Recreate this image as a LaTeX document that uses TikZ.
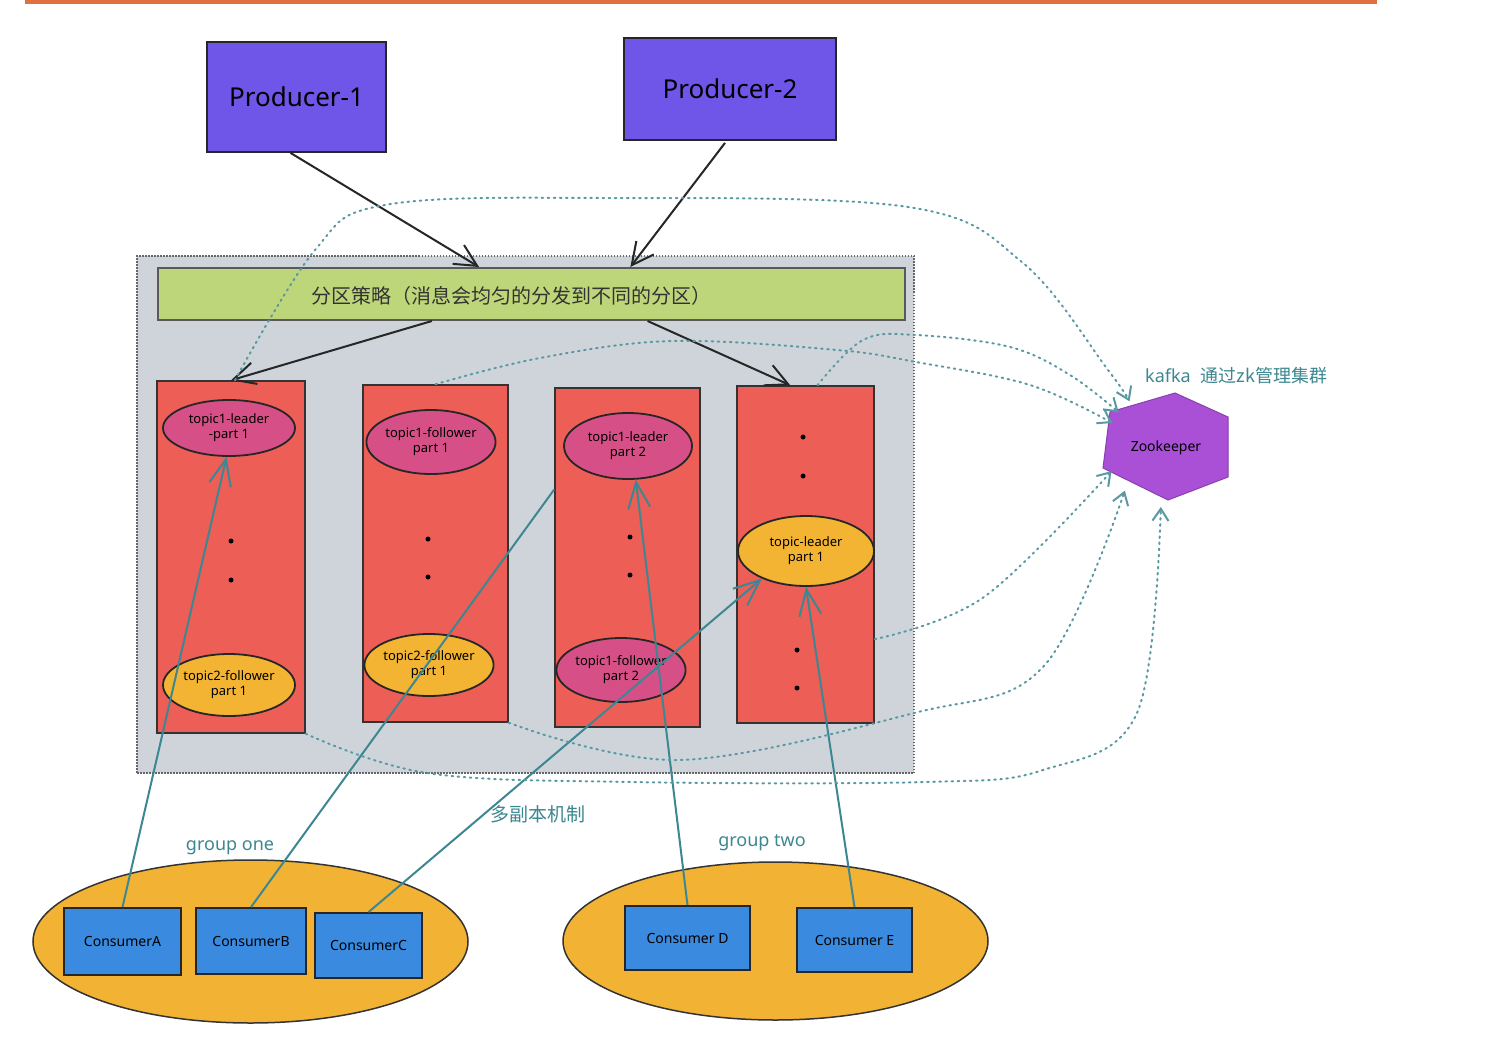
\documentclass[tikz,border=0pt]{standalone}
\usepackage{fontspec}
\setmainfont{Noto Sans}
\newfontfamily\cjk{Noto Sans CJK SC}
\usetikzlibrary{shapes.geometric,arrows.meta,calc}
\definecolor{orangebar}{RGB}{224,112,64}
\definecolor{prodc}{RGB}{112,86,232}
\definecolor{contc}{RGB}{207,212,219}
\definecolor{greenc}{RGB}{190,214,122}
\definecolor{colred}{RGB}{236,94,86}
\definecolor{pinkc}{RGB}{214,80,135}
\definecolor{yelc}{RGB}{242,180,50}
\definecolor{consc}{RGB}{58,138,224}
\definecolor{grpc}{RGB}{242,178,52}
\definecolor{zkc}{RGB}{170,80,215}
\definecolor{tealc}{RGB}{60,135,145}
\begin{document}
\begin{tikzpicture}[x=1pt,y=-1pt,
  prod/.style={draw=black!85,line width=1.8pt,fill=prodc,inner sep=0pt,font=\fontsize{26pt}{30pt}\selectfont},
  colbox/.style={draw=black!80,line width=1.5pt,fill=colred,inner sep=0pt},
  ell/.style={ellipse,draw=black!85,line width=1.8pt,inner sep=0pt,align=center,font=\fontsize{13pt}{15pt}\selectfont},
  pinkell/.style={ell,fill=pinkc},
  yell/.style={ell,fill=yelc},
  cons/.style={draw=black!85,line width=1.8pt,fill=consc,inner sep=0pt,font=\fontsize{14pt}{16pt}\selectfont},
  grp/.style={ellipse,draw=black!80,line width=1.5pt,fill=grpc,inner sep=0pt},
  barrow/.style={draw=black!85,line width=2pt,-{Straight Barb[length=22pt,width=22pt]}},
  tarrow/.style={draw=tealc,line width=2pt,-{Straight Barb[length=26pt,width=22pt]}},
  tline/.style={draw=tealc,line width=2pt},
  zkline/.style={draw=tealc!85,line width=2pt,dash pattern=on 1.6pt off 4.5pt,line cap=round,-{Straight Barb[length=12pt,width=16pt]}},
  dotn/.style={circle,fill=black,inner sep=0pt,minimum size=5pt},
  tlabel/.style={text=tealc,inner sep=0pt,font=\fontsize{18pt}{20pt}\selectfont},
]
\useasboundingbox (0,0) rectangle (1488,1044);
\fill[white] (0,0) rectangle (1488,1044);
% top bar
\fill[orangebar] (25,0) rectangle (1377,4);

% container
\node[draw=black!60,line width=2pt,dash pattern=on 1.5pt off 1.5pt,fill=contc,minimum width=777pt,minimum height=517pt,inner sep=0pt] (cont) at (525.5,514.5) {};
% green bar
\node[draw=black!65,line width=2pt,fill=greenc,minimum width=747pt,minimum height=52pt,inner sep=0pt] (g) at (531.5,294) {};
\node[inner sep=0pt,font=\cjk\fontsize{20pt}{22pt}\selectfont,text=black!80] (gt) at (511,296) {分区策略（消息会均匀的分发到不同的分区）};

% columns
\node[colbox,minimum width=148pt,minimum height=352pt] (c1) at (231,557) {};
\node[colbox,minimum width=145pt,minimum height=337pt] (c2) at (435.5,553.5) {};
\node[colbox,minimum width=145pt,minimum height=339pt] (c3) at (627.5,557.5) {};
\node[colbox,minimum width=137pt,minimum height=337pt] (c4) at (805.5,554.5) {};

% ellipses
\node[pinkell,minimum width=132pt,minimum height=56pt] (e1) at (229,428) {topic1-leader\\-part 1};
\node[yell,minimum width=132pt,minimum height=62pt] (e2) at (229,685) {topic2-follower\\part 1};
\node[pinkell,minimum width=126pt,minimum height=64pt] (e3) at (431,442) {topic1-follower\\part 1};
\node[yell,minimum width=122pt,minimum height=62pt] (e4) at (429,665) {topic2-follower\\part 1};
\node[pinkell,minimum width=128pt,minimum height=66pt] (e5) at (628,446) {topic1-leader\\part 2};
\node[pinkell,minimum width=128pt,minimum height=64pt] (e6) at (621,670) {topic1-follower\\part 2};
\node[yell,minimum width=136pt,minimum height=70pt] (e7) at (806,551) {topic-leader\\part 1};

% dots
\node[dotn] (d1) at (231,541) {};
\node[dotn] (d2) at (231,580) {};
\node[dotn] (d3) at (428,539) {};
\node[dotn] (d4) at (428,577) {};
\node[dotn] (d5) at (630,537) {};
\node[dotn] (d6) at (630,575) {};
\node[dotn] (d7) at (803,437) {};
\node[dotn] (d8) at (803,476) {};
\node[dotn] (d9) at (797,650) {};
\node[dotn] (d10) at (797,688) {};

% producers
\node[prod,minimum width=179pt,minimum height=110pt] (p1) at (296.5,97) {Producer-1};
\node[prod,minimum width=212pt,minimum height=102pt] (p2) at (730,89) {Producer-2};

% consumer groups
\node[grp,minimum width=435pt,minimum height=163pt] (g1) at (250.5,941.5) {};
\node[grp,minimum width=425pt,minimum height=158pt] (g2) at (775.5,941) {};
\node[cons,minimum width=117pt,minimum height=67pt] (cA) at (122.5,941.5) {ConsumerA};
\node[cons,minimum width=110pt,minimum height=66pt] (cB) at (251,941) {ConsumerB};
\node[cons,minimum width=107pt,minimum height=65pt] (cC) at (368.5,945.5) {ConsumerC};
\node[cons,minimum width=125pt,minimum height=64pt] (cD) at (687.5,938) {Consumer D};
\node[cons,minimum width=115pt,minimum height=64pt] (cE) at (854.5,940) {Consumer E};

% labels
\node[tlabel] (l1) at (230,848) {group one};
\node[tlabel] (l2) at (762,843) {group two};
\node[tlabel,font=\cjk\fontsize{19pt}{21pt}\selectfont] (l3) at (538,814) {多副本机制};
\node[tlabel,anchor=west] (l4) at (1145,376) {kafka\hspace{10pt}{\cjk 通过zk管理集群}};

% zookeeper
\fill[zkc,draw=zkc!80!black,line width=1pt] (1175,393) -- (1228,417) -- (1228,477) -- (1168,500) -- (1103,468) -- (1110,412) -- cycle;
\node[circle,minimum size=118pt,inner sep=0pt,font=\fontsize{14pt}{16pt}\selectfont] (zk) at (1166,448) {Zookeeper};

% black arrows
\draw[barrow] ($(p1.south)+(-6,0)$) -- ($(g.north west)!0.43!(g.north east)$);
\draw[barrow] ($(p2.south)+(-5,2)$) -- ($(g.north west)!0.632!(g.north east)$);
\draw[barrow] ($(g.south west)!0.367!(g.south east)$) -- (c1.north);
\draw[barrow] ($(g.south west)!0.655!(g.south east)$) -- ($(c4.north west)!0.39!(c4.north east)$);

% teal consumer lines
\draw[tarrow] (cA.north) -- (e1.265);
\draw[tline] (cB.north) -- ($(c3.north west)!0.3!(c3.south west)$);
\draw[tarrow] (cC.north) -- (e7.212);
\draw[tarrow] (cD.north) -- (e5.283);
\draw[tarrow] (cE.north) -- (e7.south);

% dotted lines to zookeeper
\draw[zkline] plot[smooth,tension=0.6] coordinates {($(c1.north)+(4,0)$) (315,250) (385,205) (600,198) (908,207) (1023,263) (1108,370) (zk.128)};
\draw[zkline] plot[smooth,tension=0.6] coordinates {(c2.north) (540,358) (672,341) (837,350) (916,362) (1030,385) (zk.155)};
\draw[zkline] plot[smooth,tension=0.6] coordinates {($(c4.north)+(12,0)$) (863,340) (916,335) (1010,347) (1070,375) (zk.143)};
\draw[zkline] plot[smooth,tension=0.6] coordinates {($(c4.north east)!0.75!(c4.south east)$) (984,597) (zk.203)};
\draw[zkline] plot[smooth,tension=0.6] coordinates {(c2.south east) (679,760) (914,713) (1043,667) (zk.226)};
\draw[zkline] plot[smooth,tension=0.6] coordinates {(c1.south east) (427,773) (632,782) (925,782) (1043,770) (1137,713) (zk.265)};
\end{tikzpicture}
\end{document}
